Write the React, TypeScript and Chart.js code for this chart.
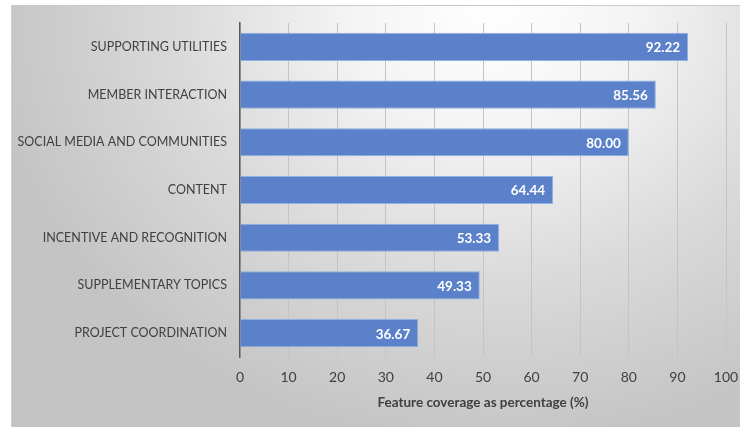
import React, { useEffect, useRef } from "react";
import { Chart, registerables } from "chart.js";

Chart.register(...registerables);

const categories = [
  "SUPPORTING UTILITIES",
  "MEMBER INTERACTION",
  "SOCIAL MEDIA AND COMMUNITIES",
  "CONTENT",
  "INCENTIVE AND RECOGNITION",
  "SUPPLEMENTARY TOPICS",
  "PROJECT COORDINATION",
];
const coverage = [92.22, 85.56, 80.0, 64.44, 53.33, 49.33, 36.67];
const xAxisTitle = "Feature coverage as percentage (%)";
const xMin = 0;
const xMax = 100;
const xStep = 10;

const FONT = "Lato, 'Open Sans', sans-serif";

const valueLabels = {
  id: "valueLabels",
  afterDatasetsDraw(chart: any) {
    const ctx = chart.ctx;
    const meta = chart.getDatasetMeta(0);
    ctx.save();
    ctx.font = `bold 13.5px ${FONT}`;
    ctx.fillStyle = "#ffffff";
    ctx.textAlign = "right";
    ctx.textBaseline = "middle";
    meta.data.forEach((bar: any, i: number) => {
      const v = chart.data.datasets[0].data[i] as number;
      ctx.fillText(v.toFixed(2), bar.x - 8, bar.y + 1);
    });
    ctx.restore();
  },
};

export default function App() {
  const ref = useRef<HTMLCanvasElement>(null);
  useEffect(() => {
    if (!ref.current) return;
    const chart = new Chart(ref.current, {
      type: "bar",
      data: {
        labels: categories,
        datasets: [
          {
            data: coverage,
            backgroundColor: "#5a81c9",
            borderColor: "#8fb0e0",
            borderWidth: 1,
            categoryPercentage: 1,
            barPercentage: 0.59,
          },
        ],
      },
      options: {
        indexAxis: "y",
        responsive: false,
        animation: false,
        layout: { padding: { left: 0, right: 14, top: 23, bottom: 0 } },
        plugins: { legend: { display: false }, tooltip: { enabled: false } },
        scales: {
          x: {
            min: xMin,
            max: xMax,
            ticks: {
              stepSize: xStep,
              padding: 12,
              color: "#404040",
              font: { family: FONT, size: 14 },
            },
            grid: { color: "#c4c4c4", lineWidth: 1, drawTicks: false },
            border: { display: false },
            title: {
              display: true,
              text: xAxisTitle,
              color: "#404040",
              font: { family: FONT, size: 13.5, weight: "bold" },
              padding: { top: 0, bottom: 16 },
            },
            afterFit(scale: any) {
              scale.height = 70;
              scale.paddingLeft = 0;
              scale.paddingRight = 0;
            },
          },
          y: {
            ticks: {
              padding: 13,
              color: "#404040",
              font: { family: FONT, size: 12.5 },
            },
            grid: { display: false, drawTicks: false },
            border: { display: true, color: "#595959", width: 1.5 },
            afterFit(scale: any) {
              scale.width = 240;
              scale.paddingTop = 0;
              scale.paddingBottom = 0;
            },
          },
        },
      },
      plugins: [valueLabels],
    });
    return () => chart.destroy();
  }, []);

  return (
    <div style={{ position: "fixed", left: 0, top: 0, width: 740, height: 427, background: "#ffffff" }}>
      <div
        style={{
          position: "absolute",
          left: 11,
          top: 5,
          width: 729,
          height: 422,
          boxSizing: "border-box",
          borderTop: "1px solid #c8c8c8",
          borderLeft: "1px solid #d0d0d0",
          background:
            "radial-gradient(ellipse 70% 105% at 66% 0%, #ffffff 0%, #f4f4f4 28%, #dadada 62%, #c4c4c4 100%)",
        }}
      />
      <canvas ref={ref} width={740} height={427} style={{ position: "absolute", left: 0, top: 0 }} />
    </div>
  );
}
